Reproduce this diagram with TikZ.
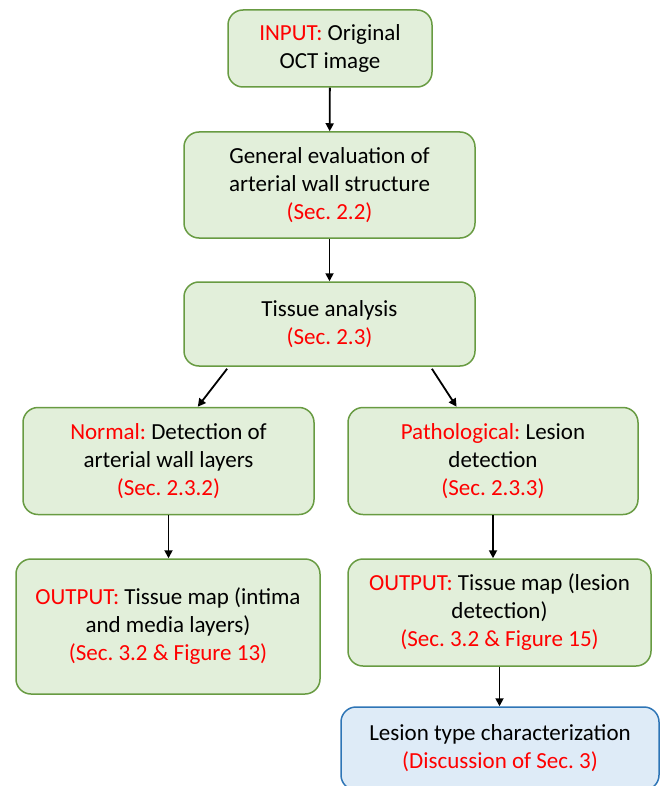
\documentclass[tikz,border=0pt]{standalone}
\usepackage{fontspec}
\setmainfont{Carlito}
\usetikzlibrary{arrows.meta,positioning,calc}
\definecolor{mint}{RGB}{226,239,218}
\definecolor{moss}{RGB}{104,155,66}
\definecolor{sky}{RGB}{222,235,247}
\definecolor{navy}{RGB}{46,117,182}
\definecolor{alert}{RGB}{255,0,0}
\tikzset{
  >={Triangle[length=8pt,width=8pt]},
  stage/.style={draw=#1,fill=mint,rounded corners=15pt,line width=1.5pt,
    align=center,inner sep=0pt,font=\fontsize{23}{28}\selectfont},
  stage/.default=moss,
  final/.style={stage=navy,fill=sky},
  flow/.style={->,line width=1.8pt,draw=black},
}
\newcommand{\hl}[1]{\textcolor{alert}{#1}}
\frenchspacing

\begin{document}
\begin{tikzpicture}[x=1pt,y=-1pt]
  \useasboundingbox (0,0) rectangle (660,786);
  % boxes
  \node[stage,minimum width=204pt,minimum height=77pt] (input) at (330,48.5)
    {\hl{INPUT:} Original\\OCT image};
  \node[stage,minimum width=291pt,minimum height=106pt] (general) at (329.5,185)
    {General evaluation of\\arterial wall structure\\\hl{(Sec. 2.2)}};
  \node[stage,minimum width=291pt,minimum height=84pt] (tissue) at (329.5,324)
    {Tissue analysis\\\hl{(Sec. 2.3)}};
  \node[stage,minimum width=291pt,minimum height=107pt] (normal) at (168.5,461)
    {\hl{Normal:} Detection of\\arterial wall layers\\\hl{(Sec. 2.3.2)}};
  \node[stage,minimum width=290pt,minimum height=107pt] (patho) at (493,461)
    {\hl{Pathological:} Lesion\\detection\\\hl{(Sec. 2.3.3)}};
  \node[stage,minimum width=304pt,minimum height=135pt] (outnormal) at (168,626.5)
    {\hl{OUTPUT:} Tissue map (intima\\and media layers)\\\hl{(Sec. 3.2 \& Figure 13)}};
  \node[stage,minimum width=303pt,minimum height=107pt] (outpatho) at (499.5,612.5)
    {\hl{OUTPUT:} Tissue map (lesion\\detection)\\\hl{(Sec. 3.2 \& Figure 15)}};
  \node[final,minimum width=318pt,minimum height=83pt] (lesion) at (500,748.5)
    {Lesion type characterization\\\hl{(Discussion of Sec. 3)}};
  % arrows
  \draw[flow] (input) -- (general);
  \draw[flow] (general) -- (tissue);
  \draw[flow] ($(tissue.south)!0.7!(tissue.south west)+(0,2)$)
    -- ($(normal.north)!0.2!(normal.north east)$);
  \draw[flow] ($(tissue.south)!0.7!(tissue.south east)+(0,2)$)
    -- ($(patho.north)!0.25!(patho.north west)$);
  \draw[flow] (normal) -- (outnormal.north -| normal.south);
  \draw[flow] (patho) -- (patho.south |- outpatho.north);
  \draw[flow] (outpatho) -- (lesion.north -| outpatho.south);
\end{tikzpicture}
\end{document}
